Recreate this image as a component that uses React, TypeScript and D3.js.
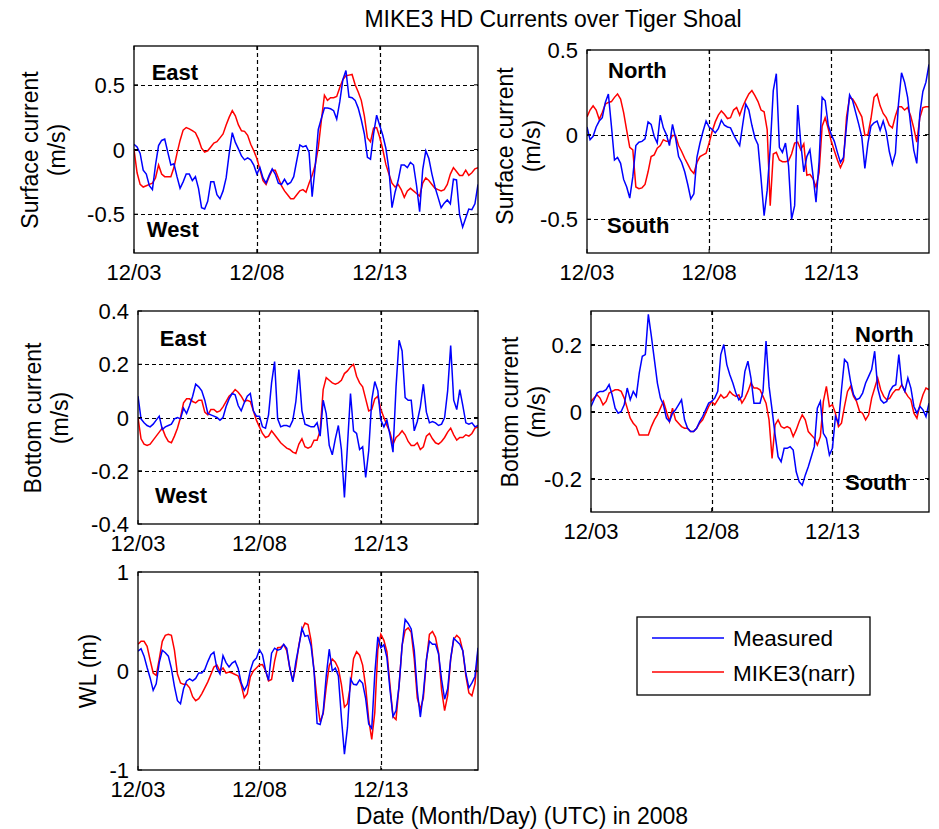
import React from 'react';
import * as d3 from 'd3';

// ---------- data (3-hourly samples, 12/03 00:00 .. 12/17 00:00) ----------
const DATE_TICKS = [0, 5, 10];
const DATE_LABELS = ['12/03', '12/08', '12/13'];
const DAY_SPAN = [0, 14];
const SERIES_NAMES = ['Measured', 'MIKE3(narr)'];

const surfUMeas = [
  0.04, 0.02, -0.03, -0.16, -0.19, -0.28, -0.31, -0.12, 0.03, 0.07,
  0.08, -0.02, -0.12, -0.11, -0.21, -0.30, -0.25, -0.19, -0.19, -0.24,
  -0.21, -0.30, -0.45, -0.46, -0.40, -0.25, -0.25, -0.35, -0.38, -0.32,
  -0.22, -0.03, 0.13, 0.055, 0.005, -0.05, -0.08, -0.065, -0.08, -0.12,
  -0.19, -0.14, -0.22, -0.26, -0.20, -0.15, -0.19, -0.26, -0.27, -0.23,
  -0.27, -0.255, -0.21, -0.085, 0.035, 0.02, 0.03, -0.02, -0.365, -0.13,
  0.155, 0.24, 0.32, 0.32, 0.315, 0.30, 0.235, 0.37, 0.54, 0.61,
  0.405, 0.40, 0.38, 0.32, 0.23, 0.12, -0.06, -0.075, 0.12, 0.265,
  0.185, 0.11, 0.01, -0.155, -0.45, -0.33, -0.24, -0.12, -0.12, -0.14,
  -0.10, -0.12, -0.28, -0.48, -0.155, -0.01, -0.07, -0.19, -0.29, -0.37,
  -0.45, -0.415, -0.39, -0.42, -0.23, -0.235, -0.505, -0.60, -0.53, -0.46,
  -0.465, -0.42, -0.27,
];
const surfUModel = [
  0.00, -0.18, -0.27, -0.29, -0.28, -0.27, -0.26, -0.22, -0.12, -0.19,
  -0.21, -0.21, -0.21, -0.14, -0.03, 0.07, 0.15, 0.17, 0.16, 0.145,
  0.13, 0.08, 0.01, -0.02, -0.01, 0.02, 0.05, 0.06, 0.09, 0.12,
  0.19, 0.25, 0.30, 0.26, 0.19, 0.145, 0.14, 0.11, 0.04, -0.01,
  -0.07, -0.155, -0.24, -0.27, -0.21, -0.16, -0.16, -0.22, -0.28, -0.32,
  -0.35, -0.38, -0.38, -0.35, -0.32, -0.31, -0.33, -0.26, -0.20, -0.12,
  0.015, 0.225, 0.42, 0.38, 0.40, 0.40, 0.41, 0.48, 0.54, 0.57,
  0.575, 0.58, 0.50, 0.445, 0.38, 0.26, 0.09, 0.06, 0.165, 0.17,
  0.095, 0.00, -0.115, -0.19, -0.26, -0.29, -0.27, -0.31, -0.37, -0.32,
  -0.30, -0.32, -0.34, -0.36, -0.26, -0.22, -0.24, -0.27, -0.30, -0.31,
  -0.32, -0.31, -0.27, -0.19, -0.14, -0.17, -0.20, -0.20, -0.16, -0.20,
  -0.18, -0.15, -0.14,
];
const surfVMeas = [
  0.045, -0.03, -0.01, 0.045, 0.08, 0.10, 0.19, 0.24, 0.05, -0.15,
  -0.135, -0.17, -0.265, -0.31, -0.375, -0.25, -0.065, -0.045, -0.04, -0.025,
  0.075, 0.06, -0.01, -0.05, 0.115, 0.04, 0.00, -0.065, 0.06, -0.02,
  -0.13, -0.165, -0.22, -0.295, -0.38, -0.35, -0.135, -0.05, 0.02, 0.08,
  0.045, 0.03, 0.01, 0.035, 0.085, 0.055, 0.045, 0.04, 0.00, -0.035,
  -0.065, 0.06, 0.18, 0.145, 0.055, -0.02, -0.06, -0.26, -0.48, -0.33,
  -0.08, 0.26, 0.36, -0.075, -0.105, -0.05, -0.185, -0.50, -0.42, 0.175,
  -0.05, -0.22, -0.13, -0.09, -0.24, -0.40, -0.16, 0.22, 0.20, 0.055,
  0.00, -0.04, -0.105, -0.165, -0.135, 0.055, 0.235, 0.20, 0.13, 0.06,
  -0.015, -0.20, -0.05, 0.05, 0.07, 0.08, 0.025, 0.08, 0.015, -0.10,
  -0.175, -0.11, 0.18, 0.365, 0.31, 0.22, 0.055, -0.09, -0.17, 0.125,
  0.255, 0.31, 0.415,
];
const surfVModel = [
  0.105, 0.145, 0.17, 0.145, 0.09, 0.13, 0.18, 0.19, 0.195, 0.22,
  0.24, 0.21, 0.13, 0.025, -0.075, -0.09, -0.31, -0.32, -0.315, -0.295,
  -0.22, -0.13, -0.12, -0.08, -0.065, -0.03, -0.04, -0.04, -0.005, -0.005,
  -0.065, -0.10, -0.14, -0.175, -0.21, -0.23, -0.165, -0.13, -0.12, -0.11,
  -0.05, 0.02, 0.075, 0.115, 0.14, 0.12, 0.095, 0.10, 0.145, 0.16,
  0.115, 0.165, 0.205, 0.24, 0.26, 0.23, 0.195, 0.145, 0.135, 0.03,
  -0.42, -0.115, -0.105, -0.15, -0.16, -0.16, -0.155, -0.115, -0.05, -0.045,
  -0.09, -0.055, -0.24, -0.235, -0.26, -0.31, -0.225, 0.05, 0.10, 0.035,
  -0.04, -0.095, -0.15, -0.195, -0.155, 0.105, 0.22, 0.21, 0.18, 0.14,
  0.105, -0.005, 0.00, 0.095, 0.22, 0.24, 0.17, 0.125, 0.10, 0.055,
  0.04, 0.11, 0.165, 0.165, 0.145, 0.16, 0.11, 0.04, -0.045, 0.10,
  0.16, 0.165, 0.165,
];
const botUMeas = [
  0.08, -0.005, -0.02, -0.03, -0.035, -0.025, -0.01, 0.005, -0.045, -0.035,
  -0.03, -0.025, -0.005, 0.00, -0.005, 0.035, 0.015, 0.045, 0.08, 0.125,
  0.115, 0.10, 0.065, 0.015, 0.01, 0.005, 0.00, -0.01, 0.00, 0.04,
  0.07, 0.09, 0.085, 0.045, 0.025, 0.055, 0.08, 0.09, 0.025, 0.005,
  0.005, -0.035, -0.04, 0.01, 0.13, 0.21, -0.005, -0.035, -0.03, -0.03,
  -0.035, -0.01, 0.06, 0.18, 0.025, -0.025, -0.03, -0.035, -0.035, -0.02,
  -0.07, 0.065, 0.015, -0.105, -0.14, -0.08, -0.03, -0.12, -0.30, -0.105,
  0.09, -0.05, -0.06, -0.12, -0.11, -0.225, -0.125, 0.065, 0.135, 0.10,
  -0.01, -0.035, -0.01, -0.065, -0.13, 0.115, 0.29, 0.25, 0.075, 0.065,
  0.065, -0.05, -0.015, 0.04, 0.125, 0.02, -0.02, -0.015, -0.02, -0.03,
  -0.025, 0.00, 0.10, 0.27, 0.065, 0.03, 0.105, 0.045, -0.02, -0.025,
  -0.02, -0.035, -0.03,
];
const botUModel = [
  0.00, -0.08, -0.10, -0.105, -0.10, -0.085, -0.07, -0.055, -0.04, -0.07,
  -0.09, -0.095, -0.07, -0.04, 0.00, 0.055, 0.07, 0.07, 0.06, 0.055,
  0.065, 0.065, 0.02, 0.01, 0.03, 0.03, 0.02, 0.025, 0.04, 0.06,
  0.08, 0.09, 0.105, 0.095, 0.08, 0.06, 0.065, 0.06, 0.025, -0.01,
  -0.035, -0.06, -0.075, -0.07, -0.05, -0.065, -0.08, -0.095, -0.105, -0.115,
  -0.12, -0.13, -0.135, -0.10, -0.08, -0.11, -0.115, -0.11, -0.085, -0.085,
  -0.05, 0.105, 0.15, 0.14, 0.13, 0.125, 0.13, 0.14, 0.165, 0.175,
  0.19, 0.20, 0.155, 0.13, 0.115, 0.07, 0.025, 0.03, 0.07, 0.08,
  0.03, 0.00, -0.03, -0.055, -0.10, -0.075, -0.065, -0.05, -0.065, -0.09,
  -0.105, -0.105, -0.095, -0.12, -0.11, -0.07, -0.06, -0.08, -0.095, -0.10,
  -0.09, -0.075, -0.055, -0.04, -0.065, -0.085, -0.075, -0.075, -0.065, -0.07,
  -0.06, -0.04, -0.035,
];
const botVMeas = [
  0.015, 0.035, 0.055, 0.06, 0.06, 0.065, 0.08, 0.05, 0.01, -0.005,
  0.00, 0.02, 0.07, 0.035, 0.06, 0.045, 0.115, 0.165, 0.17, 0.29,
  0.225, 0.155, 0.085, 0.04, 0.02, -0.02, -0.03, -0.005, 0.005, 0.02,
  0.035, -0.025, -0.05, -0.06, -0.06, -0.05, -0.03, -0.015, 0.005, 0.025,
  0.03, 0.04, 0.06, 0.17, 0.20, 0.14, 0.11, 0.085, 0.055, 0.035,
  0.045, 0.12, 0.15, 0.10, 0.025, 0.025, 0.025, 0.06, 0.21, 0.075,
  0.005, -0.07, -0.135, -0.15, -0.11, -0.11, -0.105, -0.115, -0.18, -0.21,
  -0.22, -0.19, -0.165, -0.135, -0.105, 0.01, 0.03, -0.065, -0.08, -0.13,
  -0.11, -0.015, -0.035, 0.065, 0.155, 0.145, 0.09, 0.05, 0.035, 0.04,
  0.055, 0.085, 0.105, 0.125, 0.18, 0.07, 0.035, 0.025, 0.03, 0.06,
  0.075, 0.08, 0.17, 0.08, 0.06, 0.10, 0.07, 0.015, -0.005, 0.015,
  0.005, -0.015, 0.025,
];
const botVModel = [
  0.03, 0.04, 0.05, 0.04, 0.02, 0.03, 0.055, 0.06, 0.065, 0.065,
  0.06, 0.04, 0.01, -0.02, -0.035, -0.045, -0.07, -0.07, -0.07, -0.07,
  -0.045, -0.025, -0.01, 0.01, 0.03, 0.00, -0.03, 0.01, -0.025, -0.035,
  -0.045, -0.05, -0.05, -0.06, -0.06, -0.05, -0.035, -0.025, -0.005, 0.015,
  0.03, 0.02, 0.035, 0.05, 0.04, 0.045, 0.06, 0.05, 0.045, 0.05,
  0.025, 0.04, 0.06, 0.085, 0.07, 0.07, 0.065, 0.045, 0.025, -0.025,
  -0.14, -0.04, -0.025, -0.045, -0.05, -0.045, -0.05, -0.075, -0.055, -0.03,
  -0.01, -0.025, -0.06, -0.07, -0.08, -0.10, -0.075, 0.03, 0.075, 0.015,
  0.02, -0.005, -0.045, -0.035, 0.015, 0.06, 0.075, 0.045, 0.03, 0.00,
  -0.005, -0.025, -0.01, 0.04, 0.07, 0.10, 0.065, 0.045, 0.035, 0.04,
  0.055, 0.065, 0.065, 0.08, 0.06, 0.045, 0.035, -0.005, -0.02, 0.02,
  0.05, 0.07, 0.065,
];
const wlMeas = [
  0.20, 0.225, 0.15, 0.035, -0.07, -0.195, -0.13, 0.085, 0.21, 0.185,
  0.15, 0.025, -0.155, -0.30, -0.33, -0.18, -0.10, -0.08, -0.10, -0.075,
  -0.02, -0.02, 0.015, 0.095, 0.165, 0.19, 0.025, -0.03, 0.155, 0.085,
  0.04, 0.08, 0.10, 0.025, -0.12, -0.195, -0.14, 0.005, 0.10, 0.13,
  0.215, 0.165, 0.01, -0.095, 0.18, 0.23, 0.21, 0.22, 0.27, 0.23,
  0.03, -0.11, 0.095, 0.25, 0.43, 0.35, 0.36, 0.255, 0.00, -0.53,
  -0.54, -0.415, -0.05, 0.22, 0.00, 0.03, -0.05, -0.47, -0.84, -0.57,
  -0.08, -0.135, -0.14, -0.09, -0.125, -0.28, -0.535, -0.58, -0.03, 0.345,
  0.235, 0.265, 0.135, -0.185, -0.46, -0.40, -0.15, 0.255, 0.52, 0.48,
  0.425, 0.21, -0.20, -0.465, -0.225, 0.115, 0.30, 0.27, 0.27, 0.175,
  -0.085, -0.285, -0.18, 0.125, 0.33, 0.30, 0.27, 0.205, -0.025, -0.17,
  -0.12, -0.055, 0.235,
];
const wlModel = [
  0.27, 0.30, 0.30, 0.25, 0.11, -0.02, -0.045, 0.12, 0.30, 0.36,
  0.37, 0.36, 0.21, -0.03, -0.12, -0.135, -0.135, -0.17, -0.26, -0.30,
  -0.28, -0.23, -0.17, -0.11, -0.035, 0.04, 0.06, 0.00, 0.03, -0.02,
  -0.01, -0.02, -0.035, -0.05, -0.14, -0.27, -0.23, -0.06, 0.00, 0.03,
  0.06, 0.065, 0.005, -0.10, -0.085, 0.10, 0.235, 0.24, 0.265, 0.205,
  0.03, -0.10, 0.045, 0.265, 0.415, 0.485, 0.47, 0.31, 0.00, -0.30,
  -0.515, -0.43, -0.165, 0.055, 0.12, 0.09, 0.025, -0.135, -0.365, -0.33,
  -0.145, 0.125, 0.195, 0.16, 0.06, -0.16, -0.49, -0.69, -0.42, 0.215,
  0.37, 0.31, 0.195, -0.14, -0.46, -0.49, -0.145, 0.26, 0.41, 0.435,
  0.39, 0.12, -0.275, -0.385, -0.275, 0.10, 0.37, 0.40, 0.34, 0.185,
  -0.19, -0.40, -0.25, 0.12, 0.32, 0.36, 0.33, 0.20, -0.05, -0.22,
  -0.25, -0.13, 0.20,
];

// ---------- layout / styling ----------
const FONT = '"Liberation Sans", Arial, Helvetica, sans-serif';
const MEAS_COLOR = '#0000ff';
const MODEL_COLOR = '#ff0000';

type Note = { text: string; d: number; v: number };
type PanelSpec = {
  x0: number; x1: number; y0: number; y1: number;
  yDomain: [number, number];
  yTicks: number[];
  yTickLabels: string[];
  ylabel: string[];
  ylabelX: number[];
  ylabelY: number;
  meas: number[];
  model: number[];
  notes: Note[];
};

const panels: PanelSpec[] = [
  {
    x0: 134, x1: 478, y0: 46, y1: 253,
    yDomain: [-0.8, 0.8], yTicks: [-0.5, 0, 0.5], yTickLabels: ['-0.5', '0', '0.5'],
    ylabel: ['Surface current', '(m/s)'], ylabelX: [38, 65], ylabelY: 150,
    meas: surfUMeas, model: surfUModel,
    notes: [{ text: 'East', d: 0.72, v: 0.54 }, { text: 'West', d: 0.52, v: -0.68 }],
  },
  {
    x0: 587, x1: 929, y0: 50, y1: 253,
    yDomain: [-0.7, 0.5], yTicks: [-0.5, 0, 0.5], yTickLabels: ['-0.5', '0', '0.5'],
    ylabel: ['Surface current', '(m/s)'], ylabelX: [513, 540], ylabelY: 146,
    meas: surfVMeas, model: surfVModel,
    notes: [{ text: 'North', d: 0.86, v: 0.335 }, { text: 'South', d: 0.82, v: -0.58 }],
  },
  {
    x0: 138, x1: 478, y0: 311, y1: 524,
    yDomain: [-0.4, 0.4], yTicks: [-0.4, -0.2, 0, 0.2, 0.4], yTickLabels: ['-0.4', '-0.2', '0', '0.2', '0.4'],
    ylabel: ['Bottom current', '(m/s)'], ylabelX: [41, 68], ylabelY: 418,
    meas: botUMeas, model: botUModel,
    notes: [{ text: 'East', d: 0.9, v: 0.27 }, { text: 'West', d: 0.7, v: -0.32 }],
  },
  {
    x0: 591, x1: 929, y0: 311, y1: 512,
    yDomain: [-0.3, 0.3], yTicks: [-0.2, 0, 0.2], yTickLabels: ['-0.2', '0', '0.2'],
    ylabel: ['Bottom current', '(m/s)'], ylabelX: [518, 545], ylabelY: 412,
    meas: botVMeas, model: botVModel,
    notes: [{ text: 'North', d: 10.94, v: 0.207 }, { text: 'South', d: 10.52, v: -0.234 }],
  },
  {
    x0: 138, x1: 478, y0: 572, y1: 770,
    yDomain: [-1, 1], yTicks: [-1, 0, 1], yTickLabels: ['-1', '0', '1'],
    ylabel: ['WL (m)'], ylabelX: [96], ylabelY: 671,
    meas: wlMeas, model: wlModel,
    notes: [],
  },
];

function Panel({ p }: { p: PanelSpec }) {
  const x = d3.scaleLinear().domain(DAY_SPAN).range([p.x0, p.x1]);
  const y = d3.scaleLinear().domain(p.yDomain).range([p.y1, p.y0]);
  const toLine = (vals: number[]) => {
    const step = (DAY_SPAN[1] - DAY_SPAN[0]) / (vals.length - 1);
    return d3
      .line<number>()
      .x((_, i) => x(DAY_SPAN[0] + i * step))
      .y((v) => y(v))
      .curve(d3.curveLinear)(vals) as string;
  };
  const clipId = `clip-${p.x0}-${p.y0}`;
  const dash = '4,3';
  const px = (v: number) => Math.round(v) + 0.5;
  return (
    <g>
      <defs>
        <clipPath id={clipId}>
          <rect x={p.x0} y={p.y0} width={p.x1 - p.x0} height={p.y1 - p.y0} />
        </clipPath>
      </defs>
      <rect x={p.x0} y={p.y0} width={p.x1 - p.x0} height={p.y1 - p.y0} fill="#fff" />
      {/* grid */}
      {DATE_TICKS.filter((t) => x(t) > p.x0 + 2 && x(t) < p.x1 - 2).map((t) => (
        <line key={'gx' + t} x1={px(x(t))} x2={px(x(t))} y1={p.y0} y2={p.y1} stroke="#000" strokeWidth={1.2} strokeDasharray={dash} />
      ))}
      {p.yTicks.filter((t) => y(t) > p.y0 + 2 && y(t) < p.y1 - 2).map((t) => (
        <line key={'gy' + t} x1={p.x0} x2={p.x1} y1={px(y(t))} y2={px(y(t))} stroke="#000" strokeWidth={1.2} strokeDasharray={dash} />
      ))}
      {/* series */}
      <g clipPath={`url(#${clipId})`}>
        <path d={toLine(p.model)} fill="none" stroke={MODEL_COLOR} strokeWidth={1.5} strokeLinejoin="miter" />
        <path d={toLine(p.meas)} fill="none" stroke={MEAS_COLOR} strokeWidth={1.5} strokeLinejoin="miter" />
      </g>
      {/* frame */}
      <rect x={p.x0} y={p.y0} width={p.x1 - p.x0} height={p.y1 - p.y0} fill="none" stroke="#000" strokeWidth={1.3} />
      {/* tick marks (inside, MATLAB style) */}
      {DATE_TICKS.map((t) => (
        <g key={'tx' + t}>
          <line x1={x(t)} x2={x(t)} y1={p.y1} y2={p.y1 - 4} stroke="#000" />
          <line x1={x(t)} x2={x(t)} y1={p.y0} y2={p.y0 + 4} stroke="#000" />
        </g>
      ))}
      {p.yTicks.map((t) => (
        <g key={'ty' + t}>
          <line x1={p.x0} x2={p.x0 + 4} y1={y(t)} y2={y(t)} stroke="#000" />
          <line x1={p.x1} x2={p.x1 - 4} y1={y(t)} y2={y(t)} stroke="#000" />
        </g>
      ))}
      {/* tick labels */}
      {DATE_TICKS.map((t, i) => (
        <text key={'lx' + t} x={x(t)} y={p.y1 + 27} textAnchor="middle" fontSize={22} fontFamily={FONT}>
          {DATE_LABELS[i]}
        </text>
      ))}
      {p.yTicks.map((t, i) => (
        <text key={'ly' + t} x={p.x0 - 9} y={y(t) + 8} textAnchor="end" fontSize={22} fontFamily={FONT}>
          {p.yTickLabels[i]}
        </text>
      ))}
      {/* y label */}
      {p.ylabel.map((s, i) => (
        <text
          key={'yl' + i}
          transform={`translate(${p.ylabelX[i]},${p.ylabelY}) rotate(-90)`}
          textAnchor="middle"
          fontSize={23}
          fontFamily={FONT}
        >
          {s}
        </text>
      ))}
      {/* annotations */}
      {p.notes.map((n) => (
        <text key={n.text} x={x(n.d)} y={y(n.v)} fontSize={22} fontWeight="bold" fontFamily={FONT}>
          {n.text}
        </text>
      ))}
    </g>
  );
}

export default function App() {
  return (
    <svg
      width={939}
      height={829}
      style={{ position: 'absolute', left: 0, top: 0, background: '#fff' }}
    >
      <rect x={0} y={0} width={939} height={829} fill="#fff" />
      <text x={553} y={27} textAnchor="middle" fontSize={23} fontFamily={FONT}>
        MIKE3 HD Currents over Tiger Shoal
      </text>
      {panels.map((p, i) => (
        <Panel key={i} p={p} />
      ))}
      <text x={522} y={824} textAnchor="middle" fontSize={23} fontFamily={FONT}>
        Date (Month/Day) (UTC) in 2008
      </text>
      {/* legend */}
      <g>
        <rect x={637} y={617} width={233} height={78} fill="#fff" stroke="#000" strokeWidth={1.3} />
        <line x1={652} x2={724} y1={638} y2={638} stroke={MEAS_COLOR} strokeWidth={1.5} />
        <line x1={652} x2={724} y1={672} y2={672} stroke={MODEL_COLOR} strokeWidth={1.5} />
        <text x={733} y={646} fontSize={22.5} fontFamily={FONT}>{SERIES_NAMES[0]}</text>
        <text x={733} y={681} fontSize={22.5} fontFamily={FONT}>{SERIES_NAMES[1]}</text>
      </g>
    </svg>
  );
}
